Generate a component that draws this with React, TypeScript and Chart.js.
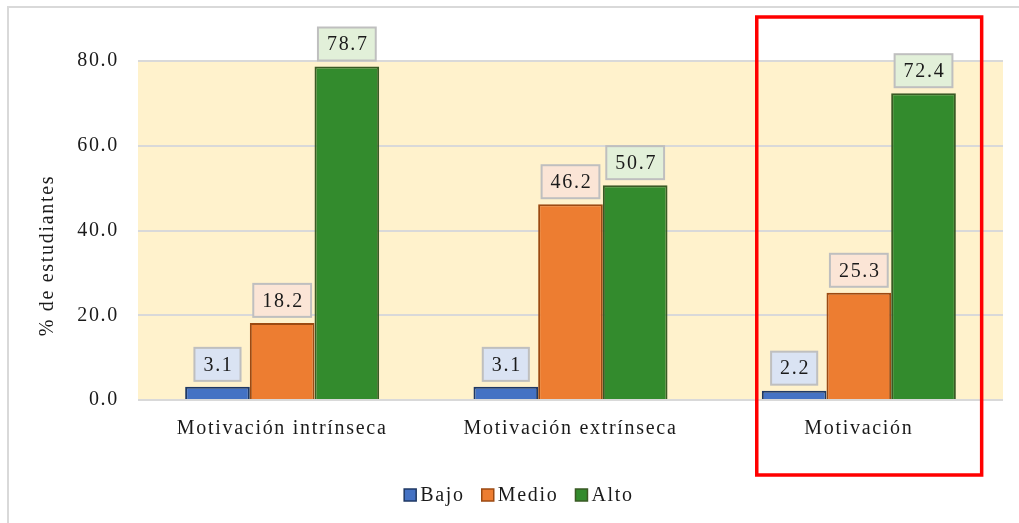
import React, { useEffect, useRef } from "react";
import { Chart, registerables } from "chart.js";

Chart.register(...registerables);

const categories = ["Motivación intrínseca", "Motivación extrínseca", "Motivación"];
const seriesNames = ["Bajo", "Medio", "Alto"];
const bajo = [3.1, 3.1, 2.2];
const medio = [18.2, 46.2, 25.3];
const alto = [78.7, 50.7, 72.4];
const yTickValues = [0, 20, 40, 60, 80];
const yTitle = "% de estudiantes";

const fillColors = ["#4472C4", "#ED7D31", "#338B2D"];
const borderColors = ["#1F3864", "#9C4A12", "#3A5A24"];
const labelFills = ["#DAE3F3", "#FBE5D6", "#E2F0D9"];
const FONT = "'Liberation Serif', 'Times New Roman', serif";
const TEXT = "#1a1a1a";
const SPACING = "1.7px";

const spacingPlugin = {
  id: "spacing",
  beforeUpdate(c: any) { c.ctx.letterSpacing = SPACING; },
  beforeLayout(c: any) { c.ctx.letterSpacing = SPACING; },
  beforeDraw(c: any) { c.ctx.letterSpacing = SPACING; },
};

const backgroundPlugin = {
  id: "bg",
  beforeDraw(c: any) {
    const { ctx, chartArea: a } = c;
    ctx.save();
    ctx.fillStyle = "#ffffff";
    ctx.fillRect(0, 0, c.width, c.height);
    ctx.fillStyle = "#FFF2CC";
    ctx.fillRect(a.left, a.top, a.right - a.left, a.bottom - a.top);
    // outer frame (left and top edges)
    ctx.fillStyle = "#d9d9d9";
    ctx.fillRect(7, 6, c.width - 7, 2);
    ctx.fillRect(7, 6, 2, c.height - 6);
    ctx.restore();
  },
};

const overlayPlugin = {
  id: "overlay",
  afterDatasetsDraw(c: any) {
    const ctx = c.ctx;
    ctx.save();
    ctx.letterSpacing = SPACING;
    ctx.font = `20px ${FONT}`;
    c.data.datasets.forEach((ds: any, di: number) => {
      const meta = c.getDatasetMeta(di);
      meta.data.forEach((bar: any, i: number) => {
        const txt = Number(ds.data[i]).toFixed(1);
        const w = ctx.measureText(txt).width + 16;
        const h = 33;
        const bottom = bar.y - 6;
        const x0 = bar.x - w / 2;
        ctx.fillStyle = labelFills[di];
        ctx.fillRect(x0, bottom - h, w, h);
        ctx.strokeStyle = "#BFBFBF";
        ctx.lineWidth = 2;
        ctx.strokeRect(x0, bottom - h, w, h);
        ctx.fillStyle = TEXT;
        ctx.textAlign = "center";
        ctx.textBaseline = "middle";
        ctx.fillText(txt, bar.x + 1, bottom - h / 2 + 1);
      });
    });
    ctx.restore();
  },
  afterDraw(c: any) {
    const ctx = c.ctx;
    const a = c.chartArea;
    const xs = c.scales.x;
    ctx.save();
    ctx.letterSpacing = SPACING;
    // y axis title
    ctx.font = `20px ${FONT}`;
    ctx.fillStyle = TEXT;
    ctx.translate(48, (a.top + a.bottom) / 2 + 25);
    ctx.rotate(-Math.PI / 2);
    ctx.textAlign = "center";
    ctx.textBaseline = "middle";
    ctx.fillText(yTitle, 0, 0);
    ctx.setTransform(1, 0, 0, 1, 0, 0);

    // legend
    const box = 12;
    const gapBoxText = 4;
    const gapItems = 17;
    const widths = seriesNames.map((n) => ctx.measureText(n).width);
    const total = widths.reduce((s, w) => s + box + gapBoxText + w, 0) + gapItems * (seriesNames.length - 1);
    let x = 519 - total / 2;
    const ly = 495;
    seriesNames.forEach((n, i) => {
      ctx.fillStyle = fillColors[i];
      ctx.fillRect(x, ly - box / 2, box, box);
      ctx.strokeStyle = borderColors[i];
      ctx.lineWidth = 1.5;
      ctx.strokeRect(x, ly - box / 2, box, box);
      ctx.fillStyle = TEXT;
      ctx.textAlign = "left";
      ctx.textBaseline = "middle";
      ctx.fillText(n, x + box + gapBoxText, ly + 1);
      x += box + gapBoxText + widths[i] + gapItems;
    });

    // highlight box around the last category
    const cw = (a.right - a.left) / categories.length;
    const cx = xs.getPixelForValue(categories.length - 1);
    ctx.strokeStyle = "#FF0000";
    ctx.lineWidth = 3.5;
    ctx.strokeRect(cx - 0.354 * cw, a.top - 44, 0.78 * cw, a.bottom - a.top + 119);
    ctx.restore();
  },
};

export default function App() {
  const ref = useRef<HTMLCanvasElement>(null);
  useEffect(() => {
    const canvas = ref.current!;
    const chart = new Chart(canvas, {
      type: "bar",
      data: {
        labels: categories,
        datasets: [bajo, medio, alto].map((d, i) => ({
          label: seriesNames[i],
          data: d,
          backgroundColor: fillColors[i],
          borderColor: borderColors[i],
          borderWidth: 2,
          borderSkipped: "bottom",
          barPercentage: 1,
          categoryPercentage: 0.673,
        })),
      },
      options: {
        responsive: false,
        animation: false,
        devicePixelRatio: 1,
        layout: { padding: { top: 61, right: 16, left: 0, bottom: 0 } },
        plugins: { legend: { display: false }, tooltip: { enabled: false } },
        scales: {
          x: {
            grid: { display: false, drawTicks: false },
            border: { display: false },
            ticks: { font: { family: FONT, size: 20 }, color: TEXT, padding: 17 },
            afterFit(s: any) { s.height = 123; },
          },
          y: {
            min: 0,
            max: 80,
            afterBuildTicks(s: any) { s.ticks = yTickValues.map((v) => ({ value: v })); },
            grid: { color: "#D9D9D9", lineWidth: 2, drawTicks: false },
            border: { display: false },
            ticks: {
              font: { family: FONT, size: 20 },
              color: TEXT,
              padding: 19,
              callback: (v: any) => Number(v).toFixed(1),
            },
            afterFit(s: any) { s.width = 138; },
          },
        },
      },
      plugins: [spacingPlugin, backgroundPlugin, overlayPlugin],
    });
    return () => chart.destroy();
  }, []);
  return (
    <div style={{ position: "fixed", left: 0, top: 0, width: 1019, height: 523, background: "#fff" }}>
      <canvas ref={ref} width={1019} height={523} style={{ display: "block" }} />
    </div>
  );
}
